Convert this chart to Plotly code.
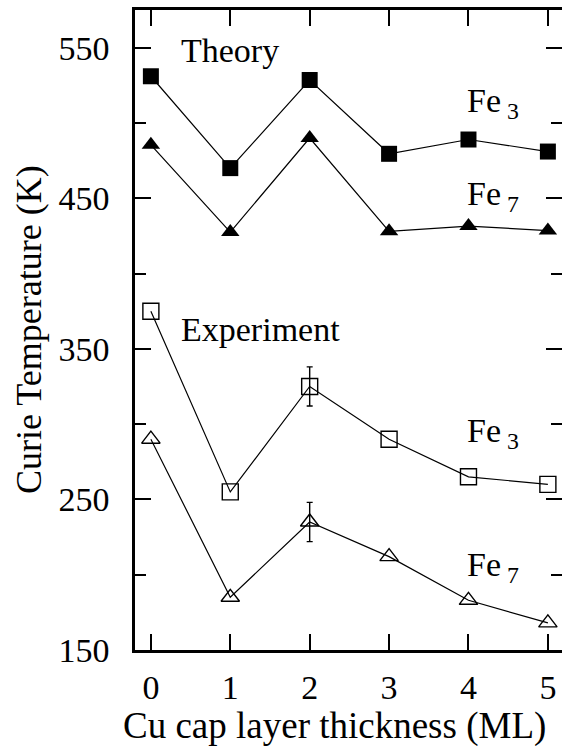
import plotly.graph_objects as go

x_ml = [0, 1, 2, 3, 4, 5]
theory_fe3 = [531, 470, 528.5, 479.5, 489, 481]
theory_fe7 = [485.5, 427.5, 490, 428, 431.5, 428.5]
exp_fe3 = [375, 255, 325, 290, 265, 260]
exp_fe7 = [290, 185, 235, 212, 183, 168]
err_x = [2]
err_fe3 = [13]
err_fe7 = [13]
exp_fe3_err_y = [325]
exp_fe7_err_y = [235]

FONT = "Liberation Serif"
FS = 34

fig = go.Figure()

line = dict(color="black", width=1.2)

fig.add_trace(go.Scatter(x=x_ml, y=theory_fe3, mode="lines+markers", line=line,
                         marker=dict(symbol="square", size=16, color="black"), showlegend=False))
fig.add_trace(go.Scatter(x=x_ml, y=theory_fe7, mode="lines+markers", line=line,
                         marker=dict(symbol="triangle-up", size=16, color="black"), showlegend=False))
fig.add_trace(go.Scatter(x=x_ml, y=exp_fe3, mode="lines+markers", line=line,
                         marker=dict(symbol="square-open", size=16, color="black", line=dict(width=1.4)),
                         showlegend=False))
fig.add_trace(go.Scatter(x=x_ml, y=exp_fe7, mode="lines+markers", line=line,
                         marker=dict(symbol="triangle-up-open", size=16, color="black", line=dict(width=1.4)),
                         showlegend=False))
# error bars
for ey, ee in ((exp_fe3_err_y, err_fe3), (exp_fe7_err_y, err_fe7)):
    fig.add_trace(go.Scatter(x=err_x, y=ey, mode="lines", line=dict(color="black", width=1),
                             error_y=dict(type="data", array=ee, visible=True, color="black",
                                          thickness=1.4, width=3),
                             showlegend=False, hoverinfo="skip"))
# dummy trace for right-side ticks axis
fig.add_trace(go.Scatter(x=[None], y=[None], yaxis="y2", showlegend=False, hoverinfo="skip"))

ann_font = dict(family=FONT, size=FS, color="black")
labels = [
    (0.35, 548, "Theory"),
    (3.955, 516.4, "Fe<sub> 3</sub>"),
    (3.955, 454.5, "Fe<sub> 7</sub>"),
    (0.35, 363, "Experiment"),
    (3.955, 297.6, "Fe<sub> 3</sub>"),
    (3.955, 208.6, "Fe<sub> 7</sub>"),
]
for lx, ly, txt in labels:
    ysh = -5 if "sub" in txt else 0
    fig.add_annotation(x=lx, y=ly, text=txt, showarrow=False, xanchor="left", yanchor="middle",
                       font=ann_font, xref="x", yref="y", yshift=ysh)

# axis titles
fig.add_annotation(text="Cu cap layer thickness (ML)", x=0.5, y=-0.118, xref="paper", yref="paper",
                   showarrow=False, xanchor="center", yanchor="middle",
                   font=dict(family=FONT, size=37, color="black"), xshift=-14)
fig.add_annotation(text="Curie Temperature (K)", x=0, y=0.5, xref="paper", yref="paper",
                   showarrow=False, xanchor="center", yanchor="middle", textangle=-90,
                   xshift=-106, font=dict(family=FONT, size=36, color="black"))

xr = [-0.2, (562 - 135) / 79.4 - 0.2]
yr = [150, 575]

fig.update_layout(
    width=562, height=746,
    margin=dict(l=135, r=0, t=10, b=96),
    paper_bgcolor="white", plot_bgcolor="white",
    font=dict(family=FONT, size=FS, color="black"),
    xaxis=dict(range=xr, tickvals=x_ml, ticktext=[str(v) for v in x_ml], ticks="inside",
               ticklen=16, tickwidth=2, tickcolor="black", showline=True, linewidth=2.5,
               linecolor="black", mirror="ticks", showgrid=False, zeroline=False,
               ticklabelstandoff=5, tickfont=dict(family=FONT, size=FS)),
    yaxis=dict(range=yr, tickvals=[150, 250, 350, 450, 550], ticks="inside", ticklen=16,
               tickwidth=2, tickcolor="black", showline=True, linewidth=2.5, linecolor="black",
               showgrid=False, zeroline=False, ticklabelstandoff=16,
               tickfont=dict(family=FONT, size=FS),
               minor=dict(tickvals=[200, 300, 400, 500], ticks="inside", ticklen=11,
                          tickwidth=2, tickcolor="black")),
    yaxis2=dict(range=yr, overlaying="y", side="right", anchor="x", tickvals=[150, 250, 350, 450, 550],
                ticks="inside", ticklen=16, tickwidth=2, tickcolor="black", showline=False,
                showticklabels=False, showgrid=False, zeroline=False,
                minor=dict(tickvals=[200, 300, 400, 500], ticks="inside", ticklen=11,
                           tickwidth=2, tickcolor="black")),
)

fig.write_html("out.html")
